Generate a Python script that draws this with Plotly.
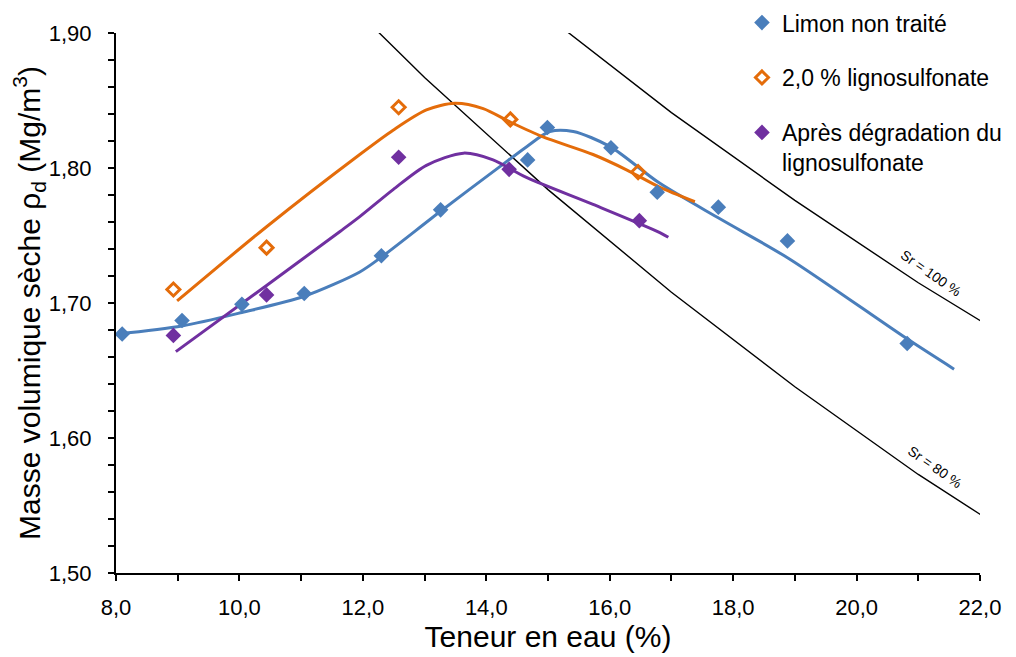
import plotly.graph_objects as go

# Measured points
limon_x = [8.10, 9.07, 10.04, 11.05, 12.30, 13.26, 14.67, 14.99, 16.02, 16.77, 17.76, 18.88, 20.82]
limon_y = [1.677, 1.687, 1.699, 1.707, 1.735, 1.769, 1.806, 1.830, 1.815, 1.782, 1.771, 1.746, 1.670]

ligno_x = [8.93, 10.44, 12.58, 14.39, 16.46]
ligno_y = [1.710, 1.741, 1.845, 1.836, 1.797]

degr_x = [8.93, 10.44, 12.58, 14.37, 16.48]
degr_y = [1.676, 1.706, 1.808, 1.799, 1.761]

# Fitted curves
limon_fit_x = [8.01, 9.07, 10.04, 11.05, 11.95, 12.30, 13.26, 14.22, 14.66, 15.03, 15.41, 16.00, 16.80, 17.80, 18.90, 20.80, 21.58]
limon_fit_y = [1.677, 1.683, 1.693, 1.705, 1.723, 1.734, 1.768, 1.801, 1.816, 1.827, 1.827, 1.816, 1.789, 1.762, 1.733, 1.674, 1.651]

ligno_fit_x = [8.99, 10.44, 11.95, 12.49, 13.03, 13.49, 13.95, 14.39, 14.92, 15.73, 16.28, 16.80, 17.38]
ligno_fit_y = [1.7015, 1.7565, 1.810, 1.828, 1.843, 1.848, 1.844, 1.834, 1.823, 1.810, 1.7985, 1.786, 1.775]

degr_fit_x = [8.97, 10.44, 11.63, 11.95, 12.49, 13.03, 13.63, 14.11, 14.65, 15.73, 16.82, 16.95]
degr_fit_y = [1.664, 1.713, 1.753, 1.764, 1.784, 1.802, 1.811, 1.806, 1.793, 1.773, 1.752, 1.7487]

# Saturation lines
sr100_x = [15.0, 17.0, 19.0, 21.0, 23.0]
sr100_y = [1.912, 1.841, 1.776, 1.715, 1.659]
sr80_x = [12.0, 13.0, 15.0, 17.0, 19.0, 21.0, 23.0]
sr80_y = [1.912, 1.867, 1.784, 1.708, 1.638, 1.573, 1.514]

BLUE = "#4A7EBB"
ORANGE = "#E46C0A"
PURPLE = "#7030A0"
FONT = "Liberation Sans, Arial, sans-serif"

fig = go.Figure()

fig.add_trace(go.Scatter(x=sr100_x, y=sr100_y, mode="lines", line=dict(color="black", width=1.4),
                         showlegend=False, hoverinfo="skip"))
fig.add_trace(go.Scatter(x=sr80_x, y=sr80_y, mode="lines", line=dict(color="black", width=1.4),
                         showlegend=False, hoverinfo="skip"))

fig.add_trace(go.Scatter(x=limon_fit_x, y=limon_fit_y, mode="lines",
                         line=dict(color=BLUE, width=3, shape="spline", smoothing=0.8),
                         showlegend=False, hoverinfo="skip"))
fig.add_trace(go.Scatter(x=ligno_fit_x, y=ligno_fit_y, mode="lines",
                         line=dict(color=ORANGE, width=3, shape="spline", smoothing=0.8),
                         showlegend=False, hoverinfo="skip"))
fig.add_trace(go.Scatter(x=degr_fit_x, y=degr_fit_y, mode="lines",
                         line=dict(color=PURPLE, width=3, shape="spline", smoothing=0.8),
                         showlegend=False, hoverinfo="skip"))

fig.add_trace(go.Scatter(x=limon_x, y=limon_y, mode="markers", name="Limon non traité",
                         legendgroup="a",
                         marker=dict(symbol="diamond", size=12, color=BLUE)))
fig.add_trace(go.Scatter(x=ligno_x, y=ligno_y, mode="markers", name="2,0 % lignosulfonate",
                         legendgroup="b",
                         marker=dict(symbol="diamond-open", size=10, color=ORANGE,
                                     line=dict(width=3, color=ORANGE))))
fig.add_trace(go.Scatter(x=degr_x, y=degr_y, mode="markers",
                         name="Après dégradation du<br>lignosulfonate",
                         legendgroup="c",
                         marker=dict(symbol="diamond", size=12, color=PURPLE)))

fig.add_annotation(x=21.2, y=1.722, text="Sr = 100 %", showarrow=False, textangle=35,
                   font=dict(size=14, color="black", family=FONT))
fig.add_annotation(x=21.27, y=1.5785, text="Sr = 80 %", showarrow=False, textangle=35,
                   font=dict(size=14, color="black", family=FONT))

fig.update_layout(
    width=1016, height=649,
    margin=dict(l=108, r=44, t=25, b=84, autoexpand=False),
    paper_bgcolor="white", plot_bgcolor="white",
    separators=", ",
    font=dict(family=FONT, color="black"),
    showlegend=True,
    legend=dict(x=0.7245, y=1.059, xanchor="left", yanchor="top",
                font=dict(size=23, color="black", family=FONT),
                bgcolor="rgba(0,0,0,0)", tracegroupgap=22, valign="top",
                itemwidth=30),
    xaxis=dict(range=[8, 22], dtick=2, tick0=8, tickformat=".1f", automargin=False,
               showgrid=False, zeroline=False,
               showline=True, linecolor="black", linewidth=2,
               ticks="outside", ticklen=6, tickwidth=2, tickcolor="black",
               minor=dict(dtick=1, ticks="outside", ticklen=6, tickwidth=2, tickcolor="black", showgrid=False),
               tickfont=dict(size=22, family=FONT, color="black"),
               ticklabelstandoff=8,
               title=dict(text="Teneur en eau (%)", font=dict(size=30, family=FONT, color="black"),
                          standoff=4)),
    yaxis=dict(range=[1.5, 1.9], dtick=0.1, tick0=1.5, tickformat=".2f", automargin=False,
               showgrid=False, zeroline=False,
               showline=True, linecolor="black", linewidth=2,
               ticks="outside", ticklen=6, tickwidth=2, tickcolor="black",
               minor=dict(dtick=0.02, ticks="outside", ticklen=6, tickwidth=2, tickcolor="black", showgrid=False),
               tickfont=dict(size=22, family=FONT, color="black"),
               ticklabelstandoff=12,
               title=dict(text="Masse volumique sèche ρ<sub>d</sub> (Mg/m<sup>3</sup>)",
                          font=dict(size=30, family=FONT, color="black"),
                          standoff=8)),
)

fig.write_html("out.html")
